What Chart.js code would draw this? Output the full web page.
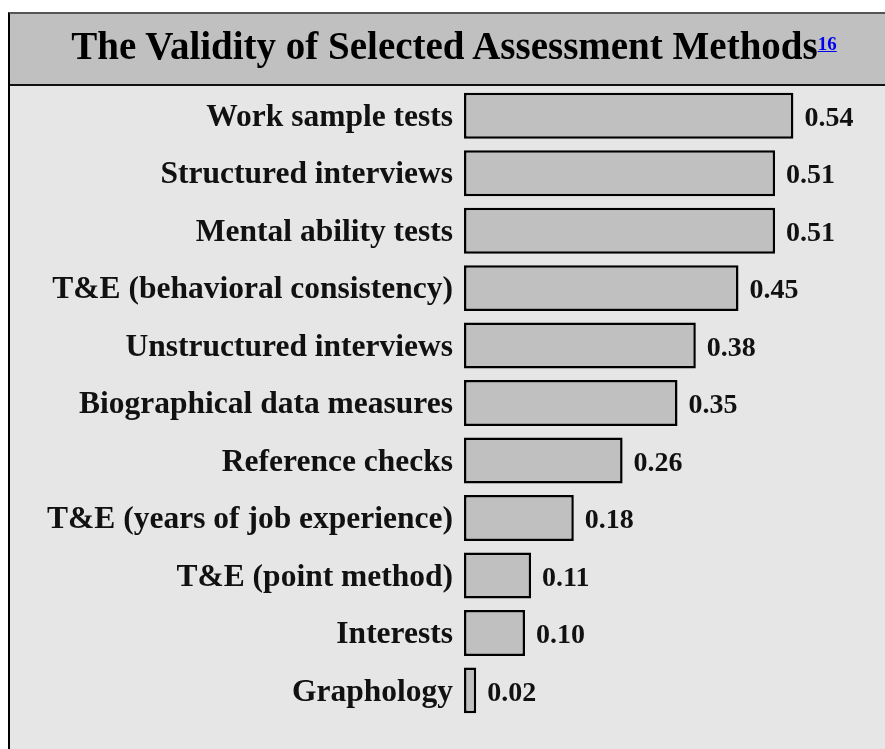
<!DOCTYPE html>
<html>
<head>
<meta charset="utf-8">
<script src="https://cdn.jsdelivr.net/npm/chart.js@4/dist/chart.umd.min.js"></script>
<style>
  html, body { margin: 0; padding: 0; background: #ffffff; width: 885px; height: 749px; overflow: hidden; }
  #box { position: absolute; left: 8px; top: 12px; width: 900px; height: 760px;
         border-left: 2px solid #000; border-top: 2px solid #555; background: #e6e6e6; }
  #band { position: absolute; left: 0; top: 0; width: 100%; height: 70px; background: #c0c0c0;
          border-bottom: 2px solid #111; }
  #title { position: absolute; left: 0; top: 26px; width: 908px; text-align: center;
           font-family: "Liberation Serif", "Times New Roman", serif; font-weight: bold;
           font-size: 39px; line-height: 39px; color: #000; white-space: nowrap; }
  #title a { font-size: 19px; font-weight: bold; line-height: 0; vertical-align: 9px; color: #0000ee; text-decoration: underline; }
  #c { position: absolute; left: 0; top: 0; }
</style>
</head>
<body>
<div id="box"><div id="band"></div></div>
<canvas id="c" width="885" height="749"></canvas>
<div id="title">The Validity of Selected Assessment Methods<a href="#">16</a></div>
<script>
const categories = [
  "Work sample tests",
  "Structured interviews",
  "Mental ability tests",
  "T&E (behavioral consistency)",
  "Unstructured interviews",
  "Biographical data measures",
  "Reference checks",
  "T&E (years of job experience)",
  "T&E (point method)",
  "Interests",
  "Graphology"
];
const validity = [0.54, 0.51, 0.51, 0.45, 0.38, 0.35, 0.26, 0.18, 0.11, 0.10, 0.02];

const valueLabels = {
  id: 'valueLabels',
  afterDatasetsDraw(chart) {
    const ctx = chart.ctx;
    const meta = chart.getDatasetMeta(0);
    ctx.save();
    ctx.font = 'bold 28px "Liberation Serif", "Times New Roman", serif';
    ctx.fillStyle = '#111';
    ctx.textAlign = 'left';
    ctx.textBaseline = 'middle';
    meta.data.forEach((bar, i) => {
      const v = chart.data.datasets[0].data[i];
      ctx.fillText(v.toFixed(2), bar.x + 11, bar.y + 3);
    });
    ctx.restore();
  }
};

new Chart(document.getElementById('c'), {
  type: 'bar',
  data: {
    labels: categories,
    datasets: [{
      data: validity,
      backgroundColor: '#c0c0c0',
      borderColor: '#000',
      borderWidth: 2.5,
      borderSkipped: false,
      categoryPercentage: 1.0,
      barPercentage: 0.8
    }]
  },
  options: {
    indexAxis: 'y',
    responsive: false,
    animation: false,
    devicePixelRatio: 1,
    layout: { padding: { top: 87, bottom: 18, left: 0, right: 24.5 } },
    plugins: { legend: { display: false }, tooltip: { enabled: false }, title: { display: false } },
    scales: {
      x: { display: false, min: 0, max: 0.65 },
      y: {
        grid: { display: false, drawTicks: false },
        border: { display: false },
        afterFit(scale) { scale.width = 464; },
        ticks: {
          padding: 11,
          labelOffset: 2,
          color: '#111',
          font: { family: '"Liberation Serif", "Times New Roman", serif', weight: 'bold', size: 31.5 }
        }
      }
    }
  },
  plugins: [valueLabels]
});
</script>
</body>
</html>
